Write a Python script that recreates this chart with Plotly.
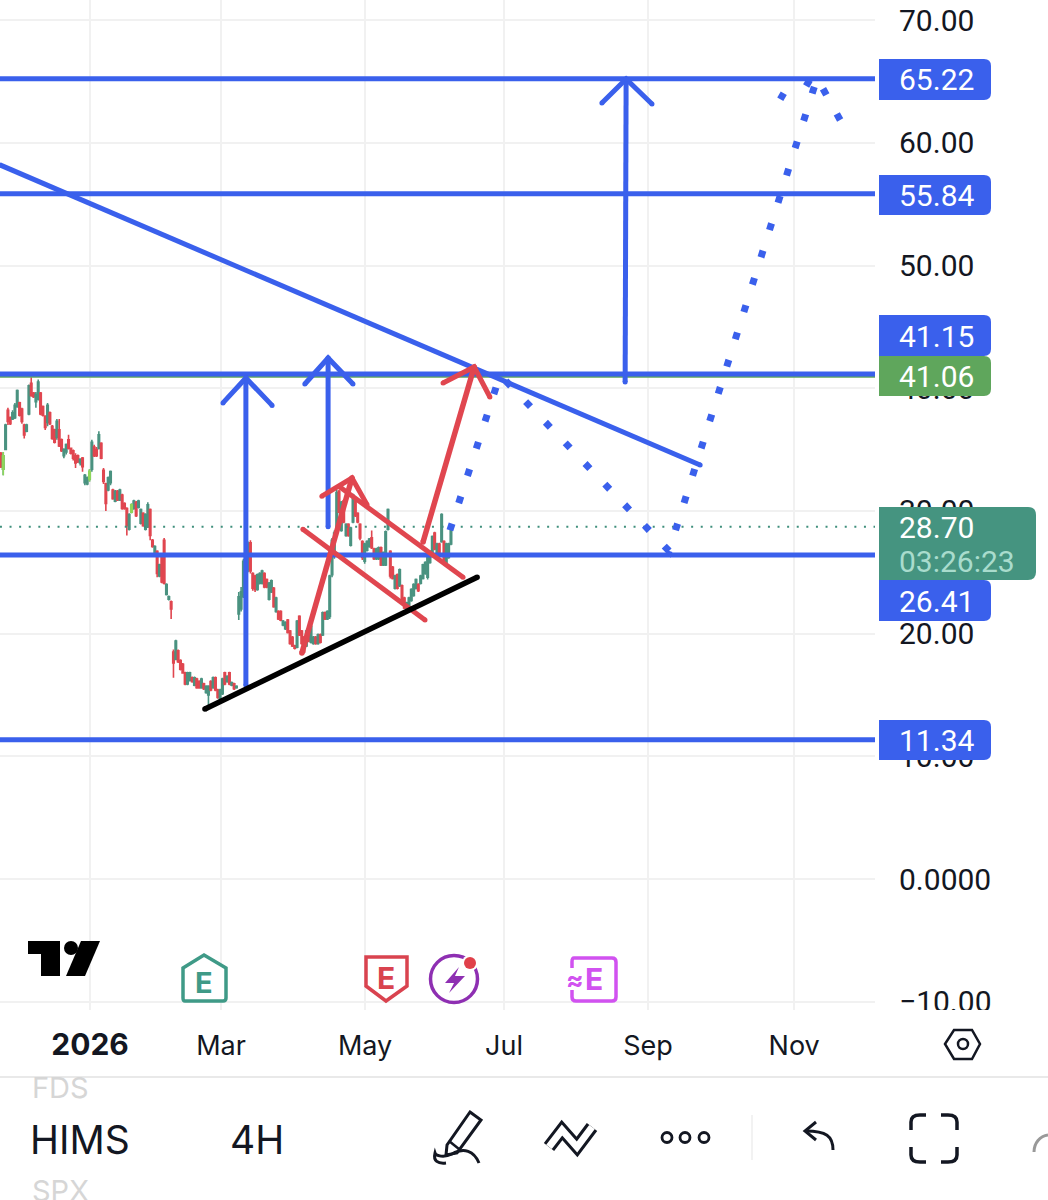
import re
import plotly.graph_objects as go

# ---------- price axis / time axis ----------
price_ticks = [70, 60, 50, 40, 30, 20, 10, 0, -10]
price_labels = ["70.00", "60.00", "50.00", "40.00", "30.00", "20.00", "10.00", "0.0000", "\u221210.00"]
time_ticks = [0, 40, 84, 126.4, 170.4, 215]
time_labels = ['<span style="font-size:30px"><b>2026</b></span>', "Mar", "May", "Jul", "Sep", "Nov"]

# ---------- HIMS 4H candles ----------
highs = [
 34.8,34.8,37.1,38.4,37.7,38.2,38.8,39.9,38.9,38.4,
 37.1,37.1,40.3,40.9,39.7,39.7,40.7,39.7,38.6,37.8,
 38.8,38.1,37.0,36.7,37.5,37.5,35.9,35.1,35.5,36.2,
 35.1,35.0,34.7,34.6,34.3,34.4,33.0,32.8,33.4,35.8,
 35.4,35.2,36.5,35.6,33.5,32.3,32.8,33.3,31.8,31.7,
 31.7,31.8,31.4,30.7,30.3,29.8,30.6,30.9,30.8,30.9,
 30.2,29.9,29.8,30.7,30.2,27.7,27.2,26.8,25.7,26.5,
 27.8,24.1,23.1,22.7,18.7,19.5,18.7,17.9,17.6,16.9,
 16.9,16.9,16.5,16.5,16.4,16.2,16.4,16.0,15.8,15.8,
 16.2,16.5,16.5,15.5,15.5,16.4,16.9,16.6,16.9,16.1,
 16.0,15.8,23.4,23.8,26.1,23.8,27.5,27.6,25.0,24.8,
 24.9,25.0,25.2,25.0,24.5,24.2,24.4,23.8,23.0,21.9,
 21.9,21.1,21.0,21.2,20.3,19.8,19.1,21.1,21.5,20.3,
 19.8,20.3,20.0,20.7,19.8,19.8,20.0,20.0,21.8,21.8,
 21.9,24.8,27.8,28.4,31.7,31.7,30.8,30.9,29.0,29.0,
 28.7,31.4,30.9,29.9,29.0,27.6,27.4,27.6,27.8,28.4,
 27.0,27.0,27.1,27.1,26.7,28.4,30.2,26.8,25.5,24.8,
 24.9,25.3,24.0,23.0,22.6,23.0,23.7,24.1,24.5,24.1,
 24.8,25.7,25.9,26.3,26.8,28.0,28.3,27.4,27.4,29.8,
 27.6,27.4,27.4,28.7]
lows = [
 33.5,32.9,35.0,37.0,37.0,37.4,37.5,38.4,37.7,37.1,
 35.9,36.4,37.8,39.3,39.2,38.4,39.0,37.8,37.7,36.6,
 36.9,37.0,35.8,35.5,35.8,35.2,34.8,34.3,34.6,35.0,
 34.6,34.1,33.5,33.9,33.7,33.2,32.1,32.1,32.4,33.2,
 34.4,34.4,35.0,34.2,32.2,30.0,31.6,32.1,30.9,30.7,
 30.8,30.8,30.1,30.1,28.0,28.4,29.8,30.1,29.5,30.2,
 28.9,28.7,28.4,28.6,27.6,27.0,26.5,24.6,24.6,24.1,
 24.0,23.1,22.7,21.2,16.4,17.9,17.6,17.0,16.8,15.8,
 15.8,16.1,16.0,15.7,15.5,15.5,15.5,15.4,15.1,13.9,
 15.3,15.5,15.3,14.7,14.5,15.0,15.8,16.0,15.8,15.7,
 15.4,15.5,21.1,21.8,22.9,22.6,25.0,24.9,23.5,23.4,
 23.5,24.0,24.0,23.7,23.7,22.7,23.3,22.1,21.7,21.1,
 21.0,20.6,20.3,20.0,19.1,18.9,18.7,18.8,19.8,19.1,
 18.4,18.9,19.3,19.2,19.1,19.1,19.1,19.2,19.8,21.1,
 21.1,21.2,24.6,26.1,28.4,29.8,28.3,29.0,27.9,27.9,
 27.1,29.0,29.5,29.0,27.6,26.0,25.7,26.7,27.0,26.9,
 26.0,26.0,26.0,25.5,25.5,25.5,28.4,24.5,24.4,23.6,
 23.6,23.8,22.6,22.0,21.7,22.1,22.6,23.0,23.6,23.4,
 24.0,24.4,24.8,24.4,25.7,26.3,26.8,26.0,26.3,27.4,
 25.7,25.7,26.1,27.2]
opens = [
 34.7,33.4,35.0,38.2,37.6,37.5,37.6,38.5,38.8,38.3,
 37.0,36.5,37.9,40.4,39.6,38.9,39.1,39.6,38.5,37.7,
 37.2,38.0,36.9,36.6,36.0,36.6,35.8,34.5,34.8,35.8,
 35.1,34.9,34.5,34.5,33.9,34.3,32.3,32.2,32.6,33.4,
 35.2,35.0,35.1,35.5,33.3,32.2,31.7,32.3,31.7,30.8,
 31.6,30.9,31.3,30.6,30.2,28.5,29.9,30.2,30.7,30.3,
 29.0,29.8,28.5,28.7,30.1,27.6,26.6,26.7,24.7,26.4,
 27.6,23.2,22.8,22.6,18.5,17.9,18.6,17.8,17.5,16.8,
 15.9,16.2,16.4,15.8,16.3,16.1,15.6,15.9,15.2,15.0,
 16.1,15.6,16.4,15.4,14.6,15.1,16.8,16.1,16.8,15.8,
 15.9,15.6,21.6,22.0,23.0,22.8,25.2,27.4,24.9,24.7,
 23.6,24.1,24.1,24.9,24.4,22.8,23.4,23.7,21.8,21.8,
 21.8,20.7,20.4,21.1,20.2,19.7,19.0,18.9,21.4,20.2,
 19.7,19.0,19.9,19.3,19.2,19.7,19.2,19.9,19.9,21.7,
 21.2,21.4,24.8,26.3,28.6,31.6,28.4,30.8,28.0,28.9,
 27.2,29.1,30.8,29.8,28.9,27.5,25.9,26.8,27.1,27.8,
 26.9,26.1,26.1,27.0,25.6,25.6,28.5,26.7,25.4,23.7,
 24.8,23.9,23.9,22.9,21.8,22.2,22.7,23.1,23.7,24.0,
 24.1,24.5,24.9,24.6,25.8,26.4,28.2,26.1,27.3,27.5,
 27.5,25.8,26.2,27.3]
closes = [
 33.6,34.5,37.0,37.3,37.1,38.0,38.6,39.8,37.8,37.3,
 36.2,37.0,40.2,39.4,39.3,39.5,40.5,37.9,37.8,36.8,
 38.6,37.1,35.9,35.6,37.3,35.3,34.9,35.0,35.4,35.1,
 34.7,34.3,33.9,34.0,34.2,33.6,32.9,32.7,33.2,35.6,
 34.5,34.5,36.2,34.3,32.4,30.6,32.7,33.2,31.0,31.6,
 30.9,31.7,30.2,30.2,28.8,29.7,30.5,30.8,29.6,30.8,
 30.1,28.8,29.7,30.5,28.0,27.1,27.1,24.9,25.6,24.2,
 24.1,24.0,23.0,22.0,17.6,19.4,17.7,17.1,16.8,15.9,
 16.8,16.8,16.1,16.4,15.6,15.6,16.3,15.5,15.7,15.7,
 15.4,16.4,15.4,14.8,15.4,16.3,15.9,16.5,15.9,16.0,
 15.5,15.7,23.0,23.4,25.9,23.6,27.3,25.1,23.7,23.6,
 24.8,24.9,25.1,23.8,23.8,24.1,24.3,22.2,22.9,21.2,
 21.1,21.0,20.9,20.1,19.2,19.0,18.8,21.0,19.9,19.2,
 18.5,20.2,19.4,20.6,19.7,19.2,19.9,19.3,21.7,21.2,
 21.8,24.7,27.6,28.2,31.5,29.9,30.7,29.1,28.9,28.0,
 28.6,31.3,29.6,29.1,27.8,26.2,27.3,27.5,27.7,27.0,
 26.1,26.9,27.0,25.6,26.6,28.3,30.1,24.7,24.5,24.7,
 23.7,25.2,22.7,22.1,22.5,22.9,23.6,24.0,24.4,23.5,
 24.7,25.6,25.8,26.2,26.7,27.9,26.9,27.3,26.4,29.7,
 25.9,27.3,27.3,28.7]
first_bar = -27.2
bar_step = 0.712
lime_bars = [1, 38, 56]      # candles coloured light green

# ---------- drawn levels ----------
level_prices = [65.22, 55.84, 41.15, 26.41, 11.34]
green_level = 41.06
last_price = 28.70

# ---------- drawn lines (session, price) ----------
trend_x, trend_y = [-27.5, 186.3], [58.2, 33.74]
black_x, black_y = [35.1, 118.2], [13.85, 24.6]
blue_arrows = [
    ([47.6, 47.6], [15.8, 40.83], [40.6, 47.6, 55.6], [38.8, 40.83, 38.6]),
    ([72.7, 72.7], [28.7, 42.46], [65.6, 72.7, 80.3], [40.34, 42.46, 40.34]),
    ([163.4, 163.7], [40.5, 65.2], [156.3, 163.7, 171.6], [63.24, 65.2, 63.16]),
]
red_arrows = [
    ([64.7, 80.0], [18.42, 32.68], [70.8, 80.0, 84.6], [31.2, 32.68, 30.5]),
    ([101.7, 117.3], [27.47, 41.73], [107.8, 117.3, 122.1], [40.42, 41.73, 39.28]),
]
channel_top_x, channel_top_y = [76.3, 113.9], [31.95, 24.6]
channel_low_x, channel_low_y = [65.0, 102.3], [28.5, 21.1]
path_x = [109.9, 125.2, 176.8, 222.0, 229.6]
path_y = [28.42, 41.08, 26.73, 65.28, 61.6]
wing_x = [211.3, 219.2]
wing_y = [63.8, 64.87]

BLUE = "#3a60ec"
RED = "#e0464f"
TEAL = "#4a9280"
INK = "#131722"
GRID = "#f1f1f1"
FONT = "Inter"
NUM_FONT = "Roboto"
W, H = 1048, 1200
PLOT_R, PLOT_B = 875, 1010

def fx(x): return x / W
def fy(y): return 1 - y / H
def P(s):
    return re.sub(r"(-?\d+\.?\d*),(-?\d+\.?\d*)",
                  lambda m: f"{fx(float(m[1])):.5f},{fy(float(m[2])):.5f}", s)

shapes, annos = [], []
def path(s, fill=None, color=None, w=0):
    d = dict(type="path", xref="paper", yref="paper", path=P(s), layer="above",
             line=dict(color=color or "rgba(0,0,0,0)", width=w))
    if fill: d["fillcolor"] = fill
    shapes.append(d)
def circle(cx, cy, r, fill="white", color=None, w=0):
    shapes.append(dict(type="circle", xref="paper", yref="paper", layer="above",
                       x0=fx(cx-r), x1=fx(cx+r), y0=fy(cy+r), y1=fy(cy-r), fillcolor=fill,
                       line=dict(color=color or "rgba(0,0,0,0)", width=w)))
def rect(x0, y0, x1, y1, fill):
    shapes.append(dict(type="rect", xref="paper", yref="paper", layer="above",
                       x0=fx(x0), x1=fx(x1), y0=fy(y1), y1=fy(y0), fillcolor=fill,
                       line=dict(width=0)))
def text(x, y, s, size, color=INK, anchor="left", bold=False, font=FONT):
    annos.append(dict(xref="paper", yref="paper", x=fx(x), y=fy(y), text=f"<b>{s}</b>" if bold else s,
                      showarrow=False, xanchor=anchor, yanchor="middle",
                      font=dict(family=font, size=size, color=color), borderpad=0))
def label(y0, y1, s, fill, x1=991, r=7):
    x0 = 879
    path(f"M{x0},{y0} L{x1-r},{y0} Q{x1},{y0} {x1},{y0+r} L{x1},{y1-r} Q{x1},{y1} {x1-r},{y1} L{x0},{y1} Z", fill=fill)
    if s:
        text(898, (y0+y1)/2 + 0.5, s, 30, "white", font=NUM_FONT)

# price labels
rect(878, 1010, W, 1020, "white")
label(59, 100, "65.22", BLUE)
label(175, 215, "55.84", BLUE)
label(315, 356, "41.15", BLUE)
label(356, 396, "41.06", "#5fa65c")
label(580, 621, "26.41", BLUE)
label(720, 760, "11.34", BLUE)
label(507, 580, "", "#459480", x1=1036, r=8)
text(898, 528, "28.70", 30, "white", font=NUM_FONT)
text(898, 561, "03:26:23", 30, "#a9dccd", font=NUM_FONT)

# separators and footer text
rect(0, 1076, W, 1078, "#e9e9e9")
rect(751, 1115, 753, 1160, "#f2f2f2")
text(31, 1087, "FDS", 29, "#d6d6d6")
text(31, 1190, "SPX", 29, "#d6d6d6")
text(29, 1139, "HIMS", 39, INK)
text(229, 1139, "4H", 39, INK)

# TradingView mark
path("M28,941 L60,941 L60,976 L41,976 L41,954 L28,954 Z", fill="#000")
circle(71, 948, 7, fill="#000")
path("M81,941 L100,941 L85,976 L66,976 Z", fill="#000")

# earnings badges
tealc, redc, purp, mag = "#3f9a87", "#d9434f", "#8e2fb2", "#d152f0"
path("M204,955 L226,968 L226,998 Q226,1001 223,1001 L185,1001 Q183,1001 183,998 L183,968 Z",
     fill="white", color=tealc, w=3.5)
text(204, 982, "E", 29, tealc, "center", True)
path("M366,957 L407,957 L407,986 L386,1001 L366,986 Z", fill="white", color=redc, w=3.5)
text(386, 978, "E", 30, redc, "center", True)
circle(454, 979, 23.5, color=purp, w=3.5)
path("M459,967 L445,983 L454,983 L449,993 L465,976 L455,976 Z", fill=purp)
circle(470, 963, 8, fill="white")
circle(470, 963, 6, fill="#e0404a")
path("M574,958 L612,958 Q616,958 616,962 L616,997 Q616,1001 612,1001 L576,1001 Q572,1001 572,997 L572,962 Q572,958 574,958 Z",
     fill="white", color=mag, w=3.5)
rect(566, 968, 574, 990, "white")
text(594, 979, "E", 30, mag, "center", True)
text(575, 979, "\u2248", 26, mag, "center", True)

# settings hexagon
path("M945,1044 L954,1030 L972,1030 L980,1044 L972,1059 L954,1059 Z", fill="white", color=INK, w=2.5)
circle(963, 1044, 5, color=INK, w=2.5)

# toolbar icons
path("M470,1112 L481,1120 L457,1153 L446,1155 L447,1145 Z", fill="white", color=INK, w=3)
path("M449,1141 L459,1149", color=INK, w=2.5)
path("M479,1163 C474,1151 464,1147 452,1154 C444,1158 436,1156 435,1153 C433,1161 438,1164 446,1163", color=INK, w=3)
path("M549,1147 L562,1130 L577,1147 L592,1127", color=INK, w=13)
path("M549,1147 L562,1130 L577,1147 L592,1127", color="white", w=7)
for cx in (667, 685, 704):
    circle(cx, 1137.5, 5, color=INK, w=2.8)
path("M833,1150 C833,1136 826,1131 806,1131", color=INK, w=3)
path("M816,1122 L805,1131 L816,1140", color=INK, w=3)
path("M911,1130 L911,1122 Q911,1115 920,1115 L926,1115", color=INK, w=3.5)
path("M941,1115 L948,1115 Q957,1115 957,1122 L957,1130", color=INK, w=3.5)
path("M911,1147 L911,1155 Q911,1162 920,1162 L926,1162", color=INK, w=3.5)
path("M941,1162 L948,1162 Q957,1162 957,1155 L957,1147", color=INK, w=3.5)
path("M1034,1152 C1034,1143 1040,1136 1048,1135", color="#999999", w=3)

# ---------- traces ----------
bar_x = [first_bar + bar_step * i for i in range(len(closes))]
fig = go.Figure()
fig.add_trace(go.Candlestick(
    x=bar_x, open=opens, high=highs, low=lows, close=closes, whiskerwidth=0,
    increasing=dict(line=dict(color=TEAL, width=1.6), fillcolor=TEAL),
    decreasing=dict(line=dict(color=RED, width=1.6), fillcolor=RED), showlegend=False, hoverinfo="skip"))
fig.add_trace(go.Candlestick(
    x=[bar_x[i] for i in lime_bars], open=[opens[i] for i in lime_bars],
    high=[highs[i] for i in lime_bars], low=[lows[i] for i in lime_bars],
    close=[closes[i] for i in lime_bars], whiskerwidth=0,
    increasing=dict(line=dict(color="#8ed65a", width=1.6), fillcolor="#8ed65a"),
    decreasing=dict(line=dict(color="#8ed65a", width=1.6), fillcolor="#8ed65a"),
    showlegend=False, hoverinfo="skip"))

def line(x, y, color, width, dash=None, round_ends=False):
    fig.add_trace(go.Scatter(x=x, y=y, mode="lines+markers" if round_ends else "lines",
                             showlegend=False, hoverinfo="skip",
                             marker=dict(size=width, color=color, symbol="circle", line=dict(width=0)),
                             line=dict(color=color, width=width, dash=dash, shape="linear")))

x_span = [-27.5, 239.7]
line(x_span, [last_price, last_price], "#3f8f7c", 2, "2px,7.6px")
line(x_span, [green_level, green_level], "#5fa65c", 5)
for lv in level_prices:
    line(x_span, [lv, lv], BLUE, 5)
line(trend_x, trend_y, BLUE, 5, round_ends=True)
for sx, sy, hx, hy in blue_arrows:
    line(sx, sy, BLUE, 5, round_ends=True)
    line(hx, hy, BLUE, 5, round_ends=True)
line(channel_top_x, channel_top_y, RED, 5, round_ends=True)
line(channel_low_x, channel_low_y, RED, 5, round_ends=True)
for sx, sy, hx, hy in red_arrows:
    line(sx, sy, RED, 5.5, round_ends=True)
    line(hx, hy, RED, 5, round_ends=True)
line(black_x, black_y, "#000000", 5.5, round_ends=True)
line(path_x, path_y, BLUE, 7, "7px,21.6px")
fig.add_trace(go.Scatter(x=wing_x, y=wing_y, mode="markers", showlegend=False, hoverinfo="skip",
                         marker=dict(symbol="square", size=7, color=BLUE, angle=30)))

fig.update_layout(
    width=W, height=H, margin=dict(l=0, r=0, t=0, b=0, autoexpand=False), paper_bgcolor="white", plot_bgcolor="white",
    showlegend=False, shapes=shapes, annotations=annos, boxgap=0.1,
    xaxis=dict(domain=[0, PLOT_R / W], range=[(0 - 90) / 3.275, (PLOT_R - 90) / 3.275], rangeslider=dict(visible=False),
               tickmode="array", tickvals=time_ticks, ticktext=time_labels, showgrid=True, gridcolor=GRID, gridwidth=2,
               zeroline=False, showline=False, ticks="", ticklabelstandoff=17, automargin=False,
               tickfont=dict(family=FONT, size=27, color=INK)),
    yaxis=dict(domain=[1 - PLOT_B / H, 1], range=[(879 - PLOT_B) / 12.27, 879 / 12.27], side="right",
               tickmode="array", tickvals=price_ticks, ticktext=price_labels, showgrid=True, gridcolor=GRID, gridwidth=2,
               zeroline=False, showline=False, ticks="", ticklabelstandoff=23, automargin=False,
               tickfont=dict(family=NUM_FONT, size=30, color=INK)),
)
fig.write_html("out.html", config=dict(displayModeBar=False, staticPlot=True),
               post_script="document.body.style.margin='0';document.body.style.overflow='hidden';")
